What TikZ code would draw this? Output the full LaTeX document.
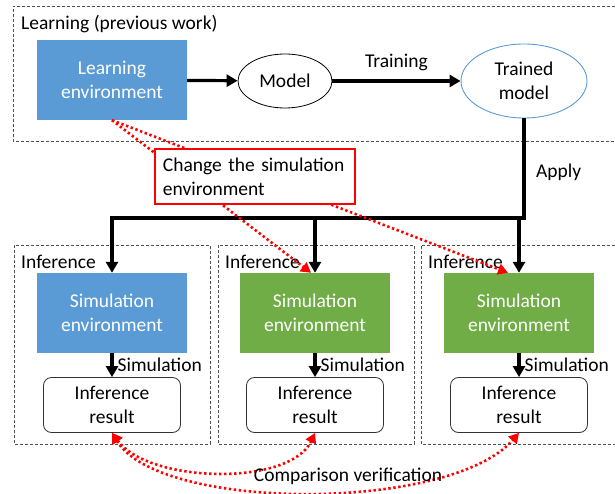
\documentclass[tikz,border=0pt]{standalone}
\usepackage{fontspec}
\setmainfont{Carlito}
\usetikzlibrary{shapes.geometric,arrows.meta}
\definecolor{envblue}{HTML}{5B9BD5}
\definecolor{envgreen}{HTML}{70AD47}
\definecolor{framegray}{HTML}{505050}
\tikzset{
  txt/.style={font=\fontsize{19.5}{24}\selectfont, inner sep=0pt, align=center},
  envbox/.style={txt, rectangle, minimum width=150, minimum height=80, text=white},
  resbox/.style={txt, rectangle, rounded corners=8, draw=black!80, line width=0.8pt, fill=white, minimum width=137, minimum height=55},
  frame/.style={draw=framegray, line width=0.8pt, dash pattern=on 3pt off 2pt},
  flow/.style={line width=3.2pt, -{Triangle[length=11pt,width=12pt]}},
  flowline/.style={line width=3.2pt},
  reddot/.style={red, line width=2.6pt, dash pattern=on 2.4pt off 2.6pt, -{Triangle[length=10pt,width=11pt]}},
  redboth/.style={red, line width=2.6pt, dash pattern=on 2.4pt off 2.6pt, {Triangle[length=10pt,width=11pt]}-{Triangle[length=10pt,width=11pt]}},
}
\begin{document}
\begin{tikzpicture}[x=1pt,y=-1pt]
\useasboundingbox (0,0) rectangle (615,494);

% group frames
\draw[frame] (640,6) -- (13,6) -- (13,141) -- (640,141);
\draw[frame] (14,245) rectangle (210,444);
\draw[frame] (218,245) rectangle (414,444);
\draw[frame] (640,245) -- (421,245) -- (421,444) -- (640,444);

\node[txt, anchor=west] (lbllearn) at (21,24) {Learning (previous work)};
\node[txt, anchor=west] (lblinf1) at (21,262) {Inference};
\node[txt, anchor=west] (lblinf2) at (225,262) {Inference};
\node[txt, anchor=west] (lblinf3) at (428,262) {Inference};

% learning stage
\node[envbox, fill=envblue] (learnenv) at (112,80) {Learning\\environment};
\node[txt, ellipse, draw=black, line width=0.8pt, minimum width=94, minimum height=54] (model) at (285,81) {Model};
\node[txt, ellipse, draw=envblue, line width=0.9pt, minimum width=126, minimum height=74] (trained) at (524,81) {Trained\\model};
\draw[flow] (learnenv) -- (model);
\draw[flow] (model) -- node[txt, above=9pt] (lbltrain) {Training} (trained);

% inference stage
\node[envbox, fill=envblue] (sim1) at (112,313) {Simulation\\environment};
\node[envbox, fill=envgreen] (sim2) at (315,313) {Simulation\\environment};
\node[envbox, fill=envgreen] (sim3) at (519,313) {Simulation\\environment};
\node[resbox] (res1) at (112,405) {Inference\\result};
\node[resbox] (res2) at (315,405) {Inference\\result};
\node[resbox] (res3) at (519,405) {Inference\\result};

% applying the trained model
\coordinate (busR) at (trained.south |- 0,218);
\coordinate (busL) at (sim1.north |- 0,218);
\draw[flowline] (trained.south) -- (busR) -- ([xshift=-1.6pt]busL);
\node[txt, anchor=west] (lblapply) at (536,172) {Apply};
\draw[flow] (busL) -- (sim1.north);
\draw[flow] (sim2.north |- busL) -- (sim2.north);
\draw[flow] (sim3.north |- busL) -- (sim3.north);

% simulation steps
\draw[flow] (sim1.south) -- (res1.north) node[txt, anchor=west, pos=0.5, xshift=4pt] (lblsim1) {Simulation};
\draw[flow] (sim2.south) -- (res2.north) node[txt, anchor=west, pos=0.5, xshift=4pt] (lblsim2) {Simulation};
\draw[flow] (sim3.south) -- (res3.north) node[txt, anchor=west, pos=0.5, xshift=4pt] (lblsim3) {Simulation};

% changed environments
\draw[reddot] (learnenv.south) -- ([xshift=-4pt]sim2.north);
\draw[reddot] (learnenv.south) -- ([xshift=-11pt]sim3.north);
\node[txt, align=left, anchor=north west, draw=red, line width=1.8pt, fill=white,
      text width=184, inner xsep=8pt, inner ysep=4pt, minimum height=55] (change) at (154,148)
      {Change the simulation\\environment};

% comparison of results
\draw[redboth] (res1.south) .. controls (150,484) and (290,486) .. (res2.south);
\draw[redboth] (res1.south) .. controls (160,512) and (450,512) .. (res3.south);
\node[txt] (lblcomp) at (348,476) {Comparison verification};
\end{tikzpicture}
\end{document}
